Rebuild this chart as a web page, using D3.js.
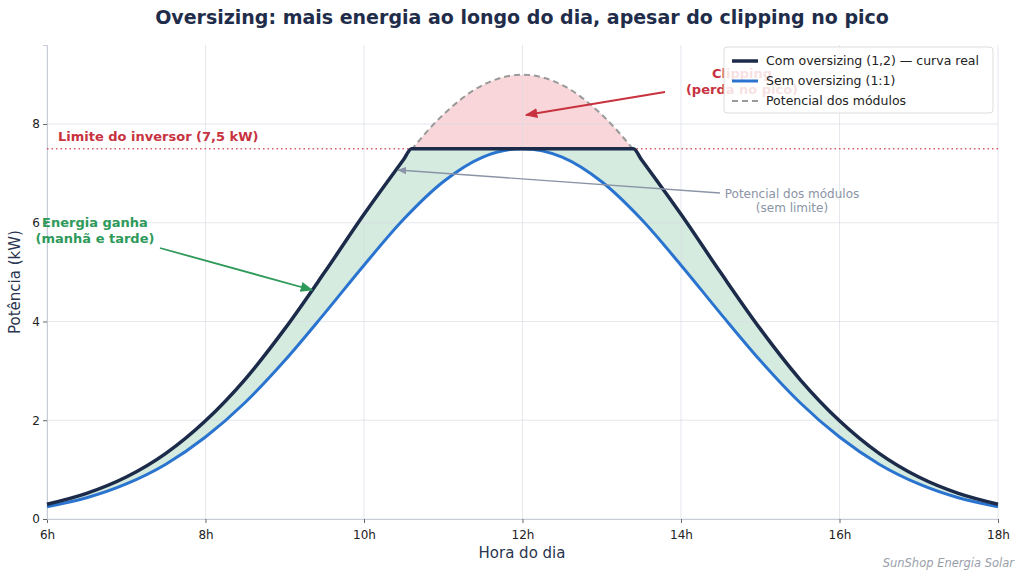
<!DOCTYPE html>
<html><head><meta charset="utf-8">
<script src="https://cdn.jsdelivr.net/npm/d3@7"></script>
<style>body{margin:0;background:#fff;font-family:"DejaVu Sans",sans-serif}</style>
</head><body><svg id="c" width="1024" height="578"></svg>
<script>
// hours of the day, half-hour steps
var hours = [6,6.5,7,7.5,8,8.5,9,9.5,10,10.5,11,11.5,12,12.5,13,13.5,14,14.5,15,15.5,16,16.5,17,17.5,18];
// module potential (no limit)
var potencial = [0.30,0.52,0.85,1.33,1.99,2.83,3.85,4.99,6.17,7.28,8.19,8.79,9.00,8.79,8.19,7.28,6.17,4.99,3.85,2.83,1.99,1.33,0.85,0.52,0.30];
// without oversizing 1:1
var semOversizing = [0.25,0.43,0.71,1.11,1.66,2.36,3.21,4.16,5.14,6.07,6.83,7.33,7.50,7.33,6.83,6.07,5.14,4.16,3.21,2.36,1.66,1.11,0.71,0.43,0.25];
// with oversizing 1.2, clipped at the inverter
var hoursReal = [6,6.5,7,7.5,8,8.5,9,9.5,10,10.5,10.6,13.4,13.5,14,14.5,15,15.5,16,16.5,17,17.5,18];
var comOversizing = [0.30,0.52,0.85,1.33,1.99,2.83,3.85,4.99,6.17,7.28,7.50,7.50,7.28,6.17,4.99,3.85,2.83,1.99,1.33,0.85,0.52,0.30];
var limite = 7.5;
var xTicks = [6,8,10,12,14,16,18];
var yTicks = [0,2,4,6,8];

var svg = d3.select("#c");
var x = d3.scaleLinear().domain([6,18]).range([47,998]);
var y = d3.scaleLinear().domain([0,9.6]).range([519,45]);

var pts = function(h, v){ return h.map(function(d,i){ return [d, v[i]]; }); };
var pot = pts(hours, potencial), sem = pts(hours, semOversizing), real = pts(hoursReal, comOversizing);

// pink clipping area, above the limit only
svg.append("clipPath").attr("id","acima").append("rect")
  .attr("x",47).attr("y",0).attr("width",951).attr("height",y(limite));
svg.append("path").datum(pot)
  .attr("clip-path","url(#acima)")
  .attr("fill","#f9d6da")
  .attr("d", d3.area().x(function(d){return x(d[0]);}).y0(y(limite)).y1(function(d){return y(d[1]);}).curve(d3.curveMonotoneX));

// green gained energy: real area minus sem area
svg.append("path").datum(real).attr("fill","#d5ebe0")
  .attr("d", d3.area().x(function(d){return x(d[0]);}).y0(y(0)).y1(function(d){return y(d[1]);}).curve(d3.curveMonotoneX));
svg.append("path").datum(sem).attr("fill","#fff")
  .attr("d", d3.area().x(function(d){return x(d[0]);}).y0(y(0)).y1(function(d){return y(d[1]);}).curve(d3.curveMonotoneX));

// grid
svg.append("g").selectAll("line").data(xTicks).enter().append("line")
  .attr("x1",function(d){return x(d);}).attr("x2",function(d){return x(d);})
  .attr("y1",45).attr("y2",519).attr("stroke","#d8dce6").attr("stroke-width",0.8).attr("opacity",0.8);
svg.append("g").selectAll("line").data(yTicks).enter().append("line")
  .attr("y1",function(d){return y(d);}).attr("y2",function(d){return y(d);})
  .attr("x1",47).attr("x2",998).attr("stroke","#d8dce6").attr("stroke-width",0.8).attr("opacity",0.8);

// axes
var xa = svg.append("g").attr("transform","translate(0,519)")
  .call(d3.axisBottom(x).tickValues(xTicks).tickFormat(function(d){return d+"h";}).tickSize(4));
var ya = svg.append("g").attr("transform","translate(47,0)")
  .call(d3.axisLeft(y).tickValues(yTicks).tickSize(4));
[xa,ya].forEach(function(a){
  a.selectAll("text").attr("font-size",12).attr("fill","#222").attr("font-family","DejaVu Sans");
  a.selectAll("line").attr("stroke","#666");
  a.select(".domain").attr("stroke","#c8ccd6");
});
xa.selectAll("text").attr("dy","1.1em");

// limit line
svg.append("line").attr("x1",47).attr("x2",998).attr("y1",y(limite)).attr("y2",y(limite))
  .attr("stroke","#d0394a").attr("stroke-width",1.4).attr("stroke-dasharray","1.5,3").attr("opacity",0.8);
svg.append("text").attr("x",58).attr("y",y(limite)-8).attr("fill","#c8323f")
  .attr("font-weight","bold").attr("font-size",13).text("Limite do inversor (7,5 kW)");

var line = d3.line().x(function(d){return x(d[0]);}).y(function(d){return y(d[1]);}).curve(d3.curveMonotoneX);
svg.append("path").datum(pot.filter(function(d){return d[0]>=10 && d[0]<=14;}))
  .attr("fill","none").attr("stroke","#9a9a9a").attr("stroke-width",2).attr("stroke-dasharray","6,4")
  .attr("clip-path","url(#acima)").attr("d", line);
svg.append("path").datum(sem).attr("fill","none").attr("stroke","#2a74d0").attr("stroke-width",3).attr("d", line);
svg.append("path").datum(real).attr("fill","none").attr("stroke","#1c2b4a").attr("stroke-width",3.5).attr("d", line);

// arrows
var defs = svg.append("defs");
function marker(id, col){
  defs.append("marker").attr("id",id).attr("viewBox","0 0 10 10").attr("refX",9).attr("refY",5)
    .attr("markerWidth",7).attr("markerHeight",7).attr("orient","auto")
    .append("path").attr("d","M0,1 L10,5 L0,9 z").attr("fill",col);
}
marker("mr","#c8323f"); marker("mg","#2e9a5a"); marker("mc","#8a94a6");
function arrow(x1,y1,x2,y2,col,m,w){
  svg.append("line").attr("x1",x1).attr("y1",y1).attr("x2",x2).attr("y2",y2)
    .attr("stroke",col).attr("stroke-width",w).attr("marker-end","url(#"+m+")");
}
arrow(665,92,526,115,"#c8323f","mr",1.8);
arrow(160,248,312,290,"#2e9a5a","mg",1.8);
arrow(720,193,398,170,"#8a94a6","mc",1.3);

function label(xp, yp, lines, col, bold, size){
  var t = svg.append("text").attr("x",xp).attr("y",yp).attr("text-anchor","middle")
    .attr("fill",col).attr("font-size",size).attr("font-weight",bold?"bold":"normal");
  lines.forEach(function(l,i){ t.append("tspan").attr("x",xp).attr("dy", i?"1.2em":0).text(l); });
}
label(742,78,["Clipping","(perda no pico)"],"#c8323f",true,13);
label(95,227,["Energia ganha","(manhã e tarde)"],"#2e9a5a",true,13);
label(792,198,["Potencial dos módulos","(sem limite)"],"#8a94a6",false,12);

// legend (drawn over the clipping label, as in the original)
var lg = svg.append("g").attr("transform","translate(724,47)");
lg.append("rect").attr("width",269).attr("height",66).attr("rx",3).attr("fill","#fff").attr("fill-opacity",0.85).attr("stroke","#ddd");
var items = [["Com oversizing (1,2) — curva real","#1c2b4a",null,3.5],["Sem oversizing (1:1)","#2a74d0",null,3],["Potencial dos módulos","#9a9a9a","6,4",2]];
items.forEach(function(it,i){
  var yy = 14 + i*20;
  lg.append("line").attr("x1",8).attr("x2",34).attr("y1",yy).attr("y2",yy).attr("stroke",it[1]).attr("stroke-width",it[3]).attr("stroke-dasharray",it[2]);
  lg.append("text").attr("x",42).attr("y",yy+4).attr("font-size",12.5).attr("fill","#222").text(it[0]);
});

// titles
svg.append("text").attr("x",522).attr("y",24).attr("text-anchor","middle").attr("font-size",19)
  .attr("font-weight","bold").attr("fill","#1f2d4a").text("Oversizing: mais energia ao longo do dia, apesar do clipping no pico");
svg.append("text").attr("x",522).attr("y",558).attr("text-anchor","middle").attr("font-size",15).attr("fill","#2a3550").text("Hora do dia");
svg.append("text").attr("transform","translate(20,282) rotate(-90)").attr("text-anchor","middle").attr("font-size",15).attr("fill","#2a3550").text("Potência (kW)");
svg.append("text").attr("x",1014).attr("y",567).attr("text-anchor","end").attr("font-size",11.5)
  .attr("font-style","italic").attr("fill","#9aa0aa").text("SunShop Energia Solar");
</script></body></html>
